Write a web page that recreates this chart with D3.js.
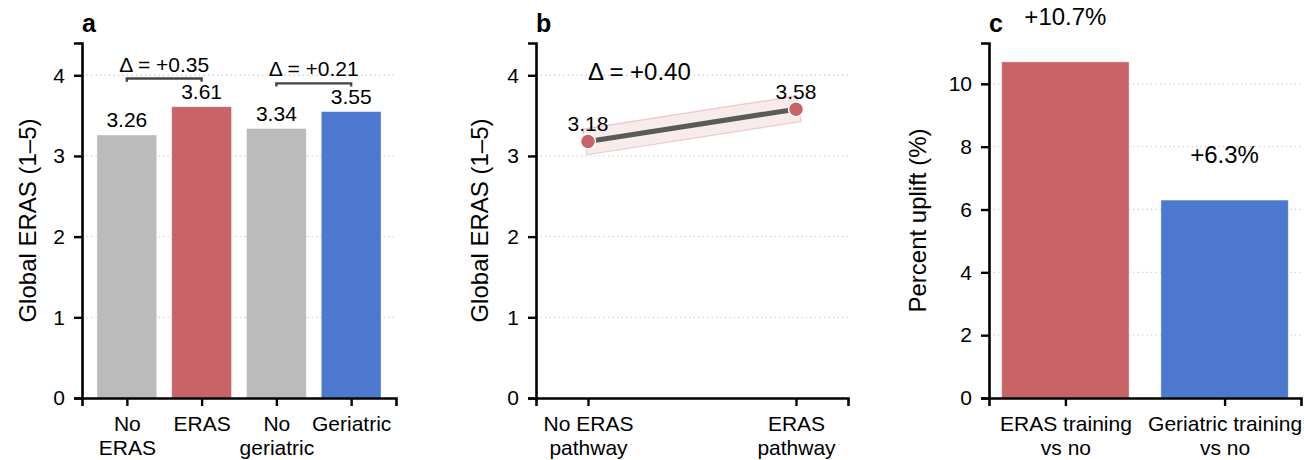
<!DOCTYPE html>
<html>
<head>
<meta charset="utf-8">
<script src="https://cdn.jsdelivr.net/npm/d3@7"></script>
<style>
  html, body { margin: 0; padding: 0; background: #fff; }
  svg { display: block; font-family: "Liberation Sans", Arial, sans-serif; }
</style>
</head>
<body>
<svg id="chart" width="1304" height="460"></svg>
<script>
// ---------- data ----------
const panelACategories = ["No\nERAS", "ERAS", "No\ngeriatric", "Geriatric"];
const panelAValues = [3.26, 3.61, 3.34, 3.55];
const panelAPairs = [[0, 1], [2, 3]];
const panelATicks = [0, 1, 2, 3, 4];

const panelBCategories = ["No ERAS\npathway", "ERAS\npathway"];
const panelBValues = [3.18, 3.58];
const panelBTicks = [0, 1, 2, 3, 4];

const panelCCategories = ["ERAS training\nvs no", "Geriatric training\nvs no"];
const panelCValues = [10.7, 6.3];
const panelCTicks = [0, 2, 4, 6, 8, 10];

// ---------- styles ----------
const GREY = "#bbbbbb", RED = "#c86467", BLUE = "#4c78cf";
const panelAColors = [GREY, RED, GREY, BLUE];
const panelCColors = [RED, BLUE];
const TICK_FS = 21, YLAB_FS = 24;

const svg = d3.select("#chart");

function styleAxes(g) {
  g.selectAll(".domain").attr("stroke", "#000").attr("stroke-width", 2.6);
  g.selectAll(".tick line").attr("stroke", "#000").attr("stroke-width", 2.4);
  g.selectAll(".tick text").attr("fill", "#000").attr("font-size", TICK_FS)
    .attr("font-family", "Liberation Sans, Arial, sans-serif");
}

function drawPanel(opts) {
  const { x, y, yTicks, cats, xLeft, xRight, top, bottom, letter, ylabel, ylabX } = opts;
  const g = svg.append("g");
  // grid
  g.append("g").selectAll("line").data(yTicks.filter(t => t !== 0)).join("line")
    .attr("x1", xLeft).attr("x2", xRight)
    .attr("y1", d => y(d)).attr("y2", d => y(d))
    .attr("stroke", "#cfcfcf").attr("stroke-width", 1.3)
    .attr("stroke-dasharray", "1.3,3.2");
  const marks = g.append("g");
  // y axis
  const ya = g.append("g").attr("transform", `translate(${xLeft},0)`)
    .call(d3.axisLeft(y).tickValues(yTicks).tickSize(8).tickPadding(9).tickFormat(d3.format("d")));
  styleAxes(ya);
  // x axis
  const xa = g.append("g").attr("transform", `translate(0,${bottom})`)
    .call(d3.axisBottom(x).tickValues(d3.range(cats.length)).tickSize(8).tickPadding(6).tickFormat(""));
  styleAxes(xa);
  xa.selectAll(".tick").each(function (d) {
    const t = d3.select(this).append("text").attr("fill", "#000").attr("font-size", TICK_FS)
      .attr("text-anchor", "middle").attr("y", 33);
    cats[d].split("\n").forEach((line, i) => {
      t.append("tspan").attr("x", 0).attr("dy", i === 0 ? 0 : 23.5).text(line);
    });
  });
  // panel letter
  g.append("text").attr("x", xLeft).attr("y", 32).attr("font-size", 25)
    .attr("font-weight", "bold").text(letter);
  // y label
  g.append("text").attr("transform", `translate(${ylabX},${(top + bottom) / 2}) rotate(-90)`)
    .attr("text-anchor", "middle").attr("font-size", YLAB_FS).text(ylabel);
  return marks;
}

// ---------- Panel a ----------
{
  const xLeft = 82, xRight = 396, top = 43, bottom = 398;
  const x = d3.scaleLinear().domain([-0.6, 3.6]).range([xLeft, xRight]);
  const y = d3.scaleLinear().domain([0, 4.4]).range([bottom, top]);
  const m = drawPanel({ x, y, yTicks: panelATicks, cats: panelACategories, xLeft, xRight, top, bottom,
    letter: "a", ylabel: "Global ERAS (1\u20135)", ylabX: 36 });
  m.selectAll("rect").data(panelAValues).join("rect")
    .attr("x", (d, i) => x(i - 0.4)).attr("width", (d, i) => x(i + 0.4) - x(i - 0.4))
    .attr("y", d => y(d)).attr("height", d => y(0) - y(d))
    .attr("fill", (d, i) => panelAColors[i]).attr("stroke", "#ffffff").attr("stroke-opacity", 0.5).attr("stroke-width", 0.8);
  m.selectAll("text.val").data(panelAValues).join("text").attr("class", "val")
    .attr("x", (d, i) => x(i)).attr("y", d => y(d) - 8).attr("text-anchor", "middle")
    .attr("font-size", TICK_FS).text(d => d.toFixed(2));
  panelAPairs.forEach(([a, b]) => {
    const top2 = Math.max(panelAValues[a], panelAValues[b]) + 0.35;
    const yy = y(top2), drop = y(top2 - 0.04);
    m.append("path")
      .attr("d", `M${x(a)},${drop}V${yy}H${x(b)}V${drop}`)
      .attr("fill", "none").attr("stroke", "#444").attr("stroke-width", 2.4);
    const delta = panelAValues[b] - panelAValues[a];
    m.append("text").attr("x", (x(a) + x(b)) / 2).attr("y", yy - 7)
      .attr("text-anchor", "middle").attr("font-size", TICK_FS)
      .text("\u0394 = +" + delta.toFixed(2));
  });
}

// ---------- Panel b ----------
{
  const xLeft = 536, xRight = 848, top = 43, bottom = 398;
  const x = d3.scaleLinear().domain([-0.25, 1.25]).range([xLeft, xRight]);
  const y = d3.scaleLinear().domain([0, 4.4]).range([bottom, top]);
  const m = drawPanel({ x, y, yTicks: panelBTicks, cats: panelBCategories, xLeft, xRight, top, bottom,
    letter: "b", ylabel: "Global ERAS (1\u20135)", ylabX: 488 });
  const pts = panelBValues.map((v, i) => [i, v]);
  // thick translucent band along the segment (perpendicular ends)
  const p0 = [x(pts[0][0]), y(pts[0][1])], p1 = [x(pts[1][0]), y(pts[1][1])];
  const dx = p1[0] - p0[0], dy = p1[1] - p0[1], len = Math.hypot(dx, dy);
  const nx = -dy / len * 13, ny = dx / len * 13, ex = dx / len * 3, ey = dy / len * 3;
  const poly = [
    [p0[0] - ex + nx, p0[1] - ey + ny], [p1[0] + ex + nx, p1[1] + ey + ny],
    [p1[0] + ex - nx, p1[1] + ey - ny], [p0[0] - ex - nx, p0[1] - ey - ny]
  ];
  m.append("path").attr("d", "M" + poly.map(p => p.join(",")).join("L") + "Z")
    .attr("fill", RED).attr("fill-opacity", 0.13)
    .attr("stroke", RED).attr("stroke-opacity", 0.3).attr("stroke-width", 1.2);
  m.append("path").attr("d", d3.line().x(d => x(d[0])).y(d => y(d[1]))(pts))
    .attr("stroke", "#5a5a5a").attr("stroke-width", 5).attr("fill", "none");
  m.selectAll("circle").data(pts).join("circle")
    .attr("cx", d => x(d[0])).attr("cy", d => y(d[1])).attr("r", 7.5)
    .attr("fill", RED).attr("stroke", "#fff").attr("stroke-width", 1.5);
  m.selectAll("text.val").data(pts).join("text").attr("class", "val")
    .attr("x", d => x(d[0])).attr("y", d => y(d[1]) - 10).attr("text-anchor", "middle")
    .attr("font-size", TICK_FS).text(d => d[1].toFixed(2));
  const delta = panelBValues[1] - panelBValues[0];
  m.append("text").attr("x", x(0)).attr("y", y(3.94)).attr("font-size", 24)
    .text("\u0394 = +" + delta.toFixed(2));
}

// ---------- Panel c ----------
{
  const xLeft = 989, xRight = 1301, top = 43, bottom = 398;
  const x = d3.scaleLinear().domain([-0.48, 1.48]).range([xLeft, xRight]);
  const y = d3.scaleLinear().domain([0, 11.3]).range([bottom, top]);
  const m = drawPanel({ x, y, yTicks: panelCTicks, cats: panelCCategories, xLeft, xRight, top, bottom,
    letter: "c", ylabel: "Percent uplift (%)", ylabX: 926 });
  m.selectAll("rect").data(panelCValues).join("rect")
    .attr("x", (d, i) => x(i - 0.4)).attr("width", (d, i) => x(i + 0.4) - x(i - 0.4))
    .attr("y", d => y(d)).attr("height", d => y(0) - y(d))
    .attr("fill", (d, i) => panelCColors[i]).attr("stroke", "#ffffff").attr("stroke-opacity", 0.5).attr("stroke-width", 0.8);
  m.selectAll("text.val").data(panelCValues).join("text").attr("class", "val")
    .attr("x", (d, i) => x(i)).attr("y", d => y(d) - 37).attr("text-anchor", "middle")
    .attr("font-size", 24).text(d => "+" + d.toFixed(1) + "%");
}
</script>
</body>
</html>
